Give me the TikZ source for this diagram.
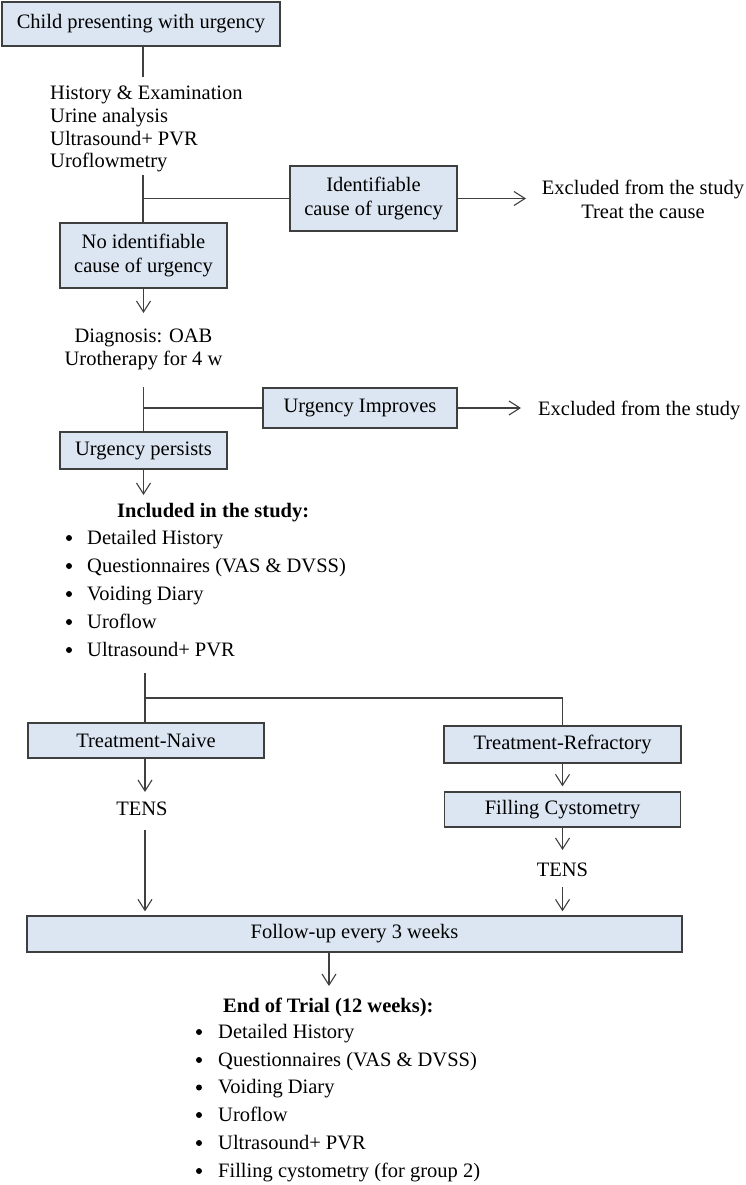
\documentclass[tikz,border=0pt]{standalone}
\usepackage{fontspec}
\setmainfont{Liberation Serif}
\usetikzlibrary{arrows.meta}
\definecolor{boxfill}{HTML}{DCE6F2}
\definecolor{boxline}{HTML}{3F3F3F}
\definecolor{lineclr}{HTML}{404040}
\newcommand{\myfs}{\fontsize{20.5}{23.5}\selectfont}
\tikzset{
 box/.style={draw=boxline, fill=boxfill, line width=1.3pt, inner sep=0pt, align=center, font=\myfs},
 txt/.style={inner sep=0pt, font=\myfs, text=black},
 conn/.style={draw=lineclr, line width=1.1pt},
 arr/.style={conn, -{Straight Barb[length=11pt,width=14pt,line width=1.1pt]}},
 bul/.style={circle, fill=black, inner sep=0pt, minimum size=6pt},
}
\begin{document}
\begin{tikzpicture}[x=1pt,y=-1pt]
\useasboundingbox (0,0) rectangle (746,1185);
% boxes
\node[box, minimum width=278pt, minimum height=44pt] (child) at (141,24) {Child presenting with urgency};
\node[box, minimum width=167pt, minimum height=65pt] (ident) at (373.5,198.5) {Identifiable\\cause of urgency};
\node[box, minimum width=167pt, minimum height=65pt] (noident) at (143.5,255.5) {No identifiable\\cause of urgency};
\node[box, minimum width=194pt, minimum height=40pt] (improves) at (360,408) {Urgency Improves};
\node[box, minimum width=167pt, minimum height=37pt] (persists) at (143.5,450.5) {Urgency persists};
\node[box, minimum width=236pt, minimum height=35pt] (naive) at (146,740.5) {Treatment-Naive};
\node[box, minimum width=237pt, minimum height=37pt] (refr) at (562.5,744.5) {Treatment-Refractory};
\node[box, minimum width=236pt, minimum height=35pt] (filling) at (562.5,809.5) {Filling Cystometry};
\node[box, minimum width=655pt, minimum height=36pt] (follow) at (354.5,934) {Follow-up every 3 weeks};
% text blocks
\node[txt, anchor=base west] (h1) at (50,100) {History \& Examination};
\node[txt, anchor=base west] (h2) at (50,123) {Urine analysis};
\node[txt, anchor=base west] (h3) at (50,145.5) {Ultrasound+ PVR};
\node[txt, anchor=base west] (h4) at (50,167.5) {Uroflowmetry};
\node[txt, anchor=base] (ex1a) at (643,194) {Excluded from the study};
\node[txt, anchor=base] (ex1b) at (643,218.5) {Treat the cause};
\node[txt, anchor=base] (dg1) at (143.5,342) {Diagnosis: OAB};
\node[txt, anchor=base] (dg2) at (143.5,365) {Urotherapy for 4 w};
\node[txt, anchor=base west] (ex2) at (538,415) {Excluded from the study};
\node[txt, anchor=base west, font=\myfs\bfseries] (inc) at (117,517) {Included in the study:};
\foreach \i/\yy/\t in {1/544/Detailed History,2/572/Questionnaires (VAS \& DVSS),3/600/Voiding Diary,4/628/Uroflow,5/656/Ultrasound+ PVR}{
  \node[txt, anchor=base west] (l\i) at (87,\yy) {\t};
  \node[bul] (b\i) at (69,\yy-6) {};
}
\node[txt, anchor=base] (tens1) at (142,815) {TENS};
\node[txt, anchor=base] (tens2) at (562.5,876) {TENS};
\node[txt, anchor=base west, font=\myfs\bfseries] (end) at (223,1012) {End of Trial (12 weeks):};
\foreach \i/\yy/\t in {1/1038/Detailed History,2/1066/Questionnaires (VAS \& DVSS),3/1093.5/Voiding Diary,4/1121/Uroflow,5/1149/Ultrasound+ PVR,6/1177/Filling cystometry (for group 2)}{
  \node[txt, anchor=base west] (m\i) at (218,\yy) {\t};
  \node[bul] (d\i) at (199,\yy-6) {};
}
% free ends
\coordinate (t1) at (143,77);
\coordinate (t2) at (143,175);
\coordinate (t3) at (526,198.5);
\coordinate (t4) at (143.5,313);
\coordinate (t5) at (143.5,387);
\coordinate (t6) at (521,408);
\coordinate (t7) at (143.5,495);
\coordinate (t8) at (145,673);
\coordinate (t9) at (145,698);
\coordinate (t10) at (145,792);
\coordinate (t11) at (145,830);
\coordinate (t12) at (562.5,850);
\coordinate (t13) at (562.5,887);
\coordinate (t14) at (329,986);
% connectors
\draw[conn] (child.south -| t1) -- (t1);
\draw[conn] (t2) -- (noident.north -| t2);
\draw[conn] (noident.north |- ident.west) -- (ident.west);
\draw[arr] (ident.east) -- (t3);
\draw[arr] (noident.south) -- (t4);
\draw[conn] (t5) -- (persists.north);
\draw[conn] (persists.north |- improves.west) -- (improves.west);
\draw[arr] (improves.east) -- (t6);
\draw[arr] (persists.south) -- (t7);
\draw[conn] (t8) -- (naive.north -| t8);
\draw[conn] (t9) -| (refr.north);
\draw[arr] (naive.south -| t10) -- (t10);
\draw[arr, shorten >=4pt] (t11) -- (follow.north -| t11);
\draw[arr, shorten >=5pt] (refr.south) -- (filling.north);
\draw[arr] (filling.south) -- (t12);
\draw[arr, shorten >=4pt] (t13) -- (follow.north -| t13);
\draw[arr] (follow.south -| t14) -- (t14);
\end{tikzpicture}
\end{document}
